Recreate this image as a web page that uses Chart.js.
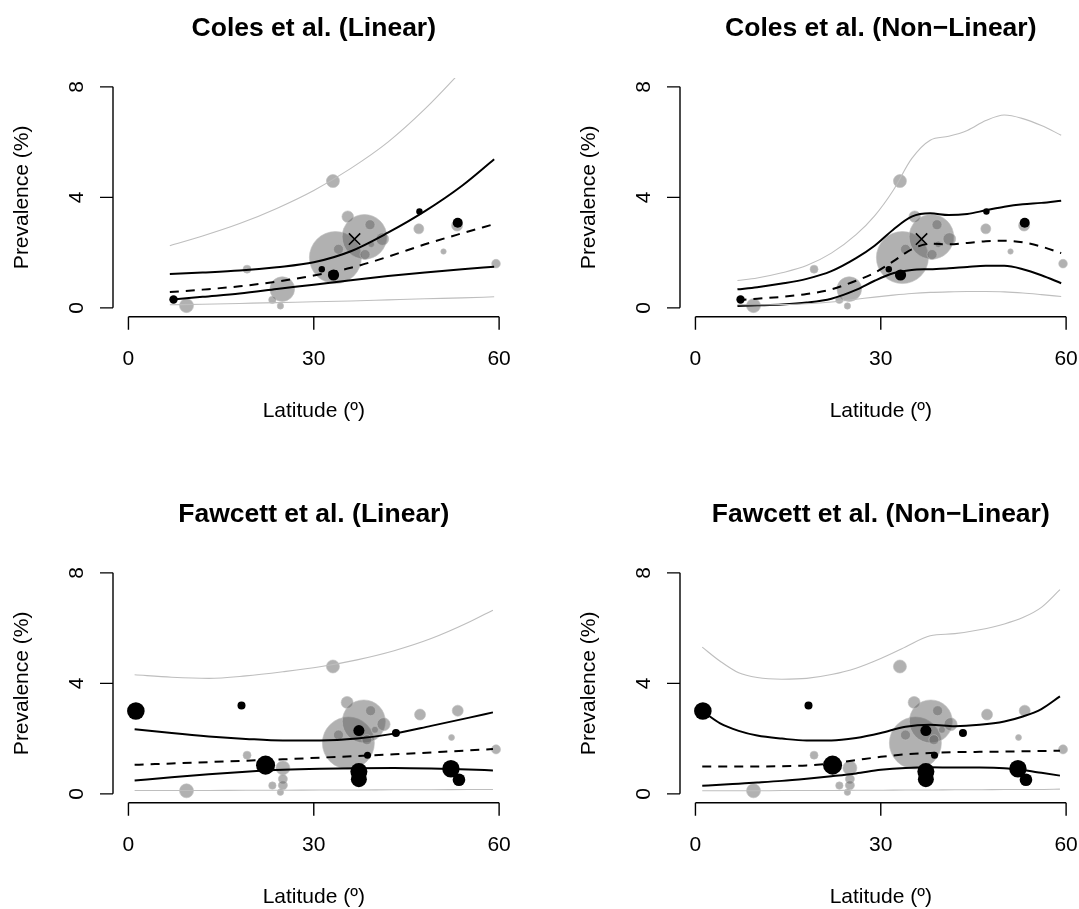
<!DOCTYPE html>
<html>
<head>
<meta charset="utf-8">
<script src="https://cdn.jsdelivr.net/npm/chart.js@4.4.1/dist/chart.umd.min.js"></script>
<style>
  html, body { margin: 0; padding: 0; background: #fff; width: 1079px; height: 909px; overflow: hidden; }
  .panel { position: absolute; }
  .panel canvas { display: block; }
</style>
</head>
<body>
<div class="panel" style="left:0;top:0"><canvas id="colesLin" width="567" height="486"></canvas></div>
<div class="panel" style="left:567px;top:0"><canvas id="colesNl" width="512" height="486"></canvas></div>
<div class="panel" style="left:0;top:486px"><canvas id="fawcettLin" width="567" height="423"></canvas></div>
<div class="panel" style="left:567px;top:486px"><canvas id="fawcettNl" width="512" height="423"></canvas></div>
<script>
const latTicks = [0, 30, 60];
const prevTicks = [0, 4, 8];

// Coles et al.: own estimates (black), pooled estimate (x), other studies (grey)
const colesLat = [7.3, 31.3, 33.2, 47.1, 53.3];
const colesPrev = [0.30, 1.40, 1.19, 3.49, 3.08];
const colesCex = [1.05, 0.8, 1.4, 0.8, 1.25];
const colesPoolLat = [36.6];
const colesPoolPrev = [2.49];
const colesOtherLat = [33.1, 9.4, 19.2, 24.9, 23.3, 24.6, 33.5, 38.2, 35.5, 39.1, 41.1, 38.3, 34.0, 39.3, 47.0, 51.0, 53.2, 59.5];
const colesOtherPrev = [4.59, 0.08, 1.40, 0.68, 0.29, 0.07, 1.82, 2.57, 3.30, 3.01, 2.49, 1.93, 2.12, 2.30, 2.86, 2.04, 2.98, 1.60];
const colesOtherCex = [1.63, 1.75, 1, 3.08, 0.93, 0.8, 6.5, 5.58, 1.45, 1.25, 1.58, 1.25, 1.25, 0.83, 1.25, 0.68, 1.38, 1.08];

// Coles linear model
const colesLinGrid = [6.7, 12, 18, 24, 30, 36, 42, 48, 54, 59.2];
const colesLinFit  = [0.57, 0.66, 0.78, 0.95, 1.17, 1.45, 1.85, 2.30, 2.70, 3.03];
const colesLinCiLo = [0.29, 0.40, 0.52, 0.68, 0.84, 1.00, 1.15, 1.28, 1.40, 1.49];
const colesLinCiHi = [1.23, 1.28, 1.35, 1.47, 1.65, 2.05, 2.72, 3.50, 4.42, 5.38];
const colesLinPiLo = [0.11, 0.13, 0.16, 0.19, 0.22, 0.25, 0.29, 0.33, 0.36, 0.40];
const colesLinPiHi = [2.25, 2.60, 3.05, 3.60, 4.25, 5.05, 6.00, 7.20, 8.60, 9.90];

// Coles non-linear model
const colesNlGrid  = [6.8, 10, 14, 18, 22, 26, 29, 32, 35, 38, 41, 44, 47, 50, 53, 56, 59.2];
const colesNlFit   = [0.28, 0.33, 0.40, 0.50, 0.67, 0.98, 1.27, 1.68, 2.12, 2.32, 2.30, 2.35, 2.41, 2.43, 2.37, 2.22, 1.98];
const colesNlCiLo  = [0.07, 0.09, 0.12, 0.19, 0.33, 0.65, 0.98, 1.25, 1.37, 1.40, 1.43, 1.48, 1.52, 1.52, 1.40, 1.18, 0.89];
const colesNlCiHi  = [0.67, 0.75, 0.88, 1.05, 1.33, 1.80, 2.25, 2.83, 3.30, 3.42, 3.36, 3.40, 3.53, 3.66, 3.75, 3.80, 3.88];
const colesNlPiLo  = [0.11, 0.11, 0.12, 0.15, 0.21, 0.31, 0.39, 0.46, 0.52, 0.56, 0.58, 0.59, 0.59, 0.58, 0.54, 0.48, 0.41];
const colesNlPiHi  = [0.99, 1.08, 1.27, 1.53, 1.98, 2.65, 3.33, 4.25, 5.40, 6.07, 6.21, 6.42, 6.78, 6.98, 6.85, 6.60, 6.25];

// Fawcett et al.: own estimates (black), other studies (grey)
const fawcettLat = [1.2, 18.3, 22.2, 37.3, 38.7, 43.3, 37.3, 37.3, 52.2, 53.5];
const fawcettPrev = [3.00, 3.20, 1.04, 2.29, 1.40, 2.20, 0.81, 0.53, 0.91, 0.51];
const fawcettCex = [2.2, 1, 2.38, 1.38, 0.88, 1, 2.13, 2, 2.18, 1.58];
const fawcettOtherLat = [33.1, 9.4, 19.2, 25.0, 25.0, 25.0, 23.3, 24.6, 35.6, 38.1, 35.4, 39.2, 41.3, 39.9, 38.6, 34.0, 47.2, 52.3, 53.3, 59.5];
const fawcettOtherPrev = [4.61, 0.11, 1.40, 0.94, 0.54, 0.31, 0.30, 0.06, 1.84, 2.62, 3.31, 3.01, 2.52, 2.32, 1.96, 2.13, 2.87, 2.04, 3.01, 1.61];
const fawcettOtherCex = [1.63, 1.75, 1, 1.75, 1.13, 1.13, 0.93, 0.8, 6.5, 5.38, 1.5, 1.25, 1.63, 0.88, 1.25, 1.25, 1.38, 0.75, 1.38, 1.13];

// Fawcett linear model
const fawcettLinGrid = [1, 7, 13, 19, 25, 31, 37, 43, 49, 55, 59];
const fawcettLinFit  = [1.05, 1.10, 1.15, 1.20, 1.25, 1.31, 1.37, 1.43, 1.50, 1.57, 1.62];
const fawcettLinCiLo = [0.48, 0.60, 0.71, 0.80, 0.87, 0.91, 0.93, 0.94, 0.92, 0.88, 0.85];
const fawcettLinCiHi = [2.34, 2.20, 2.08, 1.99, 1.93, 1.93, 2.00, 2.18, 2.46, 2.75, 2.95];
const fawcettLinPiLo = [0.12, 0.12, 0.12, 0.13, 0.13, 0.14, 0.14, 0.15, 0.15, 0.16, 0.16];
const fawcettLinPiHi = [4.31, 4.22, 4.18, 4.27, 4.42, 4.60, 4.85, 5.18, 5.62, 6.20, 6.65];

// Fawcett non-linear model
const fawcettNlGrid  = [1.1, 4, 7, 10, 14, 18, 22, 26, 30, 34, 38, 42, 46, 50, 53, 56, 59];
const fawcettNlFit   = [0.99, 0.99, 0.99, 0.99, 1.00, 1.03, 1.10, 1.22, 1.34, 1.43, 1.48, 1.51, 1.52, 1.53, 1.54, 1.55, 1.56];
const fawcettNlCiLo  = [0.29, 0.33, 0.37, 0.41, 0.47, 0.55, 0.64, 0.74, 0.87, 0.94, 0.96, 0.95, 0.95, 0.93, 0.86, 0.76, 0.66];
const fawcettNlCiHi  = [3.00, 2.55, 2.28, 2.11, 2.00, 1.93, 1.93, 2.02, 2.20, 2.43, 2.50, 2.45, 2.50, 2.62, 2.80, 3.07, 3.53];
const fawcettNlPiLo  = [0.11, 0.11, 0.11, 0.11, 0.12, 0.12, 0.12, 0.13, 0.13, 0.14, 0.14, 0.15, 0.15, 0.16, 0.16, 0.16, 0.17];
const fawcettNlPiHi  = [5.31, 4.80, 4.38, 4.21, 4.15, 4.18, 4.32, 4.55, 4.90, 5.32, 5.72, 5.80, 5.94, 6.15, 6.38, 6.75, 7.39];

const FONT = '"Liberation Sans", Arial, Helvetica, sans-serif';
const CEX_PX = 4;

// base-graphics style axes, drawn from the chart's own scales
const rAxes = {
  id: 'rAxes',
  afterDraw(chart, args, opts) {
    const ctx = chart.ctx;
    const area = chart.chartArea;
    const xs = chart.scales.x, ys = chart.scales.y;
    const tick = 13;
    const xb = area.bottom, yl = area.left;
    ctx.save();
    ctx.strokeStyle = '#000';
    ctx.fillStyle = '#000';
    ctx.lineWidth = 1.4;
    ctx.beginPath();
    ctx.moveTo(xs.getPixelForValue(latTicks[0]), xb);
    ctx.lineTo(xs.getPixelForValue(latTicks[latTicks.length - 1]), xb);
    latTicks.forEach(v => {
      const p = xs.getPixelForValue(v);
      ctx.moveTo(p, xb);
      ctx.lineTo(p, xb + tick);
    });
    ctx.moveTo(yl, ys.getPixelForValue(prevTicks[0]));
    ctx.lineTo(yl, ys.getPixelForValue(prevTicks[prevTicks.length - 1]));
    prevTicks.forEach(v => {
      const p = ys.getPixelForValue(v);
      ctx.moveTo(yl, p);
      ctx.lineTo(yl - tick, p);
    });
    ctx.stroke();

    ctx.font = '21px ' + FONT;
    ctx.textAlign = 'center';
    ctx.textBaseline = 'alphabetic';
    latTicks.forEach(v => ctx.fillText(String(v), xs.getPixelForValue(v), xb + 48));
    ctx.fillText('Latitude (º)', xs.getPixelForValue(30), xb + 100);
    prevTicks.forEach(v => {
      ctx.save();
      ctx.translate(yl - 30, ys.getPixelForValue(v));
      ctx.rotate(-Math.PI / 2);
      ctx.fillText(String(v), 0, 0);
      ctx.restore();
    });
    ctx.save();
    ctx.translate(yl - 85, ys.getPixelForValue(4));
    ctx.rotate(-Math.PI / 2);
    ctx.fillText('Prevalence (%)', 0, 0);
    ctx.restore();

    ctx.font = 'bold 26.5px ' + FONT;
    ctx.fillText(opts.title, xs.getPixelForValue(30), area.top - 42.5);
    ctx.restore();
  }
};

function pts(lat, prev) {
  return lat.map((x, i) => ({ x: x, y: prev[i] }));
}

function curve(grid, vals, color, width, dash) {
  return {
    data: pts(grid, vals),
    showLine: true,
    borderColor: color,
    borderWidth: width,
    borderDash: dash || [],
    pointRadius: 0,
    cubicInterpolationMode: 'monotone',
    clip: 0,
    order: 5
  };
}

function makePanel(id, title, fit, other, own, pooled) {
  const el = document.getElementById(id);
  const W = el.width, H = el.height;

  const datasets = [
    {
      data: pts(other.lat, other.prev),
      pointRadius: other.cex.map(c => c * CEX_PX),
      backgroundColor: 'rgba(100,100,100,0.5)',
      borderColor: 'rgba(190,190,190,0.6)',
      borderWidth: 1,
      order: 10
    },
    curve(fit.grid, fit.piLo, '#bebebe', 1.1),
    curve(fit.grid, fit.piHi, '#bebebe', 1.1),
    curve(fit.grid, fit.ciLo, '#000', 2),
    curve(fit.grid, fit.ciHi, '#000', 2),
    curve(fit.grid, fit.fit, '#000', 2, [9, 7]),
    {
      data: pts(own.lat, own.prev),
      pointRadius: own.cex.map(c => c * CEX_PX),
      backgroundColor: '#000',
      borderWidth: 0,
      order: 2
    }
  ];
  if (pooled) {
    datasets.push({
      data: pts(pooled.lat, pooled.prev),
      pointStyle: 'crossRot',
      pointRadius: 8,
      borderColor: '#000',
      borderWidth: 1.6,
      backgroundColor: 'transparent',
      order: 1
    });
  }

  new Chart(el, {
    type: 'scatter',
    data: { datasets: datasets },
    options: {
      responsive: false,
      animation: false,
      events: [],
      devicePixelRatio: 1,
      layout: {
        autoPadding: false,
        padding: { left: 113, top: 78, right: W - 509, bottom: H - 316.7 }
      },
      scales: {
        x: { type: 'linear', min: -2.5, max: 61.6, display: false },
        y: { type: 'linear', min: -0.32, max: 8.32, display: false }
      },
      plugins: {
        legend: { display: false },
        tooltip: { enabled: false },
        rAxes: { title: title }
      }
    },
    plugins: [rAxes]
  });
}

const colesOther = { lat: colesOtherLat, prev: colesOtherPrev, cex: colesOtherCex };
const colesOwn = { lat: colesLat, prev: colesPrev, cex: colesCex };
const colesPool = { lat: colesPoolLat, prev: colesPoolPrev };
const fawcettOther = { lat: fawcettOtherLat, prev: fawcettOtherPrev, cex: fawcettOtherCex };
const fawcettOwn = { lat: fawcettLat, prev: fawcettPrev, cex: fawcettCex };

makePanel('colesLin', 'Coles et al. (Linear)',
  { grid: colesLinGrid, fit: colesLinFit, ciLo: colesLinCiLo, ciHi: colesLinCiHi, piLo: colesLinPiLo, piHi: colesLinPiHi },
  colesOther, colesOwn, colesPool);
makePanel('colesNl', 'Coles et al. (Non\u2212Linear)',
  { grid: colesNlGrid, fit: colesNlFit, ciLo: colesNlCiLo, ciHi: colesNlCiHi, piLo: colesNlPiLo, piHi: colesNlPiHi },
  colesOther, colesOwn, colesPool);
makePanel('fawcettLin', 'Fawcett et al. (Linear)',
  { grid: fawcettLinGrid, fit: fawcettLinFit, ciLo: fawcettLinCiLo, ciHi: fawcettLinCiHi, piLo: fawcettLinPiLo, piHi: fawcettLinPiHi },
  fawcettOther, fawcettOwn, null);
makePanel('fawcettNl', 'Fawcett et al. (Non\u2212Linear)',
  { grid: fawcettNlGrid, fit: fawcettNlFit, ciLo: fawcettNlCiLo, ciHi: fawcettNlCiHi, piLo: fawcettNlPiLo, piHi: fawcettNlPiHi },
  fawcettOther, fawcettOwn, null);
</script>
</body>
</html>
